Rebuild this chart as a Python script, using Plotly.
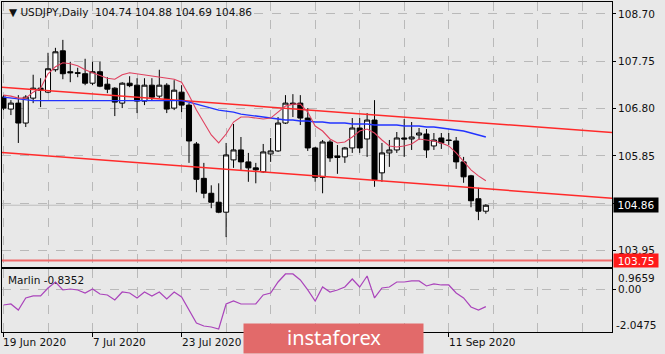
import pandas as pd
import plotly.graph_objects as go

# ---------------- data ----------------
dates = pd.bdate_range("2020-06-19", "2020-09-18")
bar = list(range(len(dates)))

opens = [107.03, 106.79, 106.91, 106.51, 107.01, 107.21, 107.13, 107.58, 107.96, 107.54,
         107.52, 107.50, 107.31, 107.54, 107.29, 107.21, 106.91, 107.31, 107.27, 106.95,
         107.27, 107.05, 107.27, 106.81, 107.13, 106.87, 106.09, 105.40, 105.10, 104.92,
         104.72, 105.77, 105.97, 105.73, 105.61, 105.53, 105.89, 105.95, 106.51, 106.91,
         106.91, 106.61, 106.01, 105.42, 106.13, 105.85, 105.83, 106.01, 106.41, 106.19,
         106.57, 105.51, 105.91, 105.97, 106.21, 106.19, 106.27, 106.29, 106.05, 106.21,
         106.17, 106.15, 105.73, 105.45, 104.99, 104.74]
highs = [107.07, 106.97, 107.07, 107.07, 107.48, 107.41, 107.92, 108.02, 108.18, 107.74,
         107.62, 107.80, 107.74, 107.74, 107.43, 107.23, 107.33, 107.45, 107.41, 107.41,
         107.41, 107.58, 107.31, 107.37, 107.27, 106.91, 106.13, 105.71, 105.26, 105.30,
         106.11, 106.49, 106.23, 105.91, 105.71, 106.09, 106.21, 106.63, 107.07, 107.09,
         107.07, 106.81, 106.03, 106.17, 106.17, 106.07, 106.03, 106.61, 106.61, 106.71,
         106.97, 106.11, 106.17, 106.33, 106.59, 106.53, 106.41, 106.39, 106.31, 106.31,
         106.31, 106.23, 105.83, 105.47, 105.21, 104.88]
lows = [106.77, 106.67, 106.11, 106.43, 106.91, 106.83, 107.11, 107.54, 107.39, 107.33,
        107.43, 107.27, 107.27, 107.23, 107.11, 106.65, 106.81, 107.23, 106.71, 106.87,
        106.97, 107.01, 106.71, 106.77, 106.73, 105.71, 105.12, 105.00, 104.80, 104.70,
        104.22, 105.61, 105.57, 105.33, 105.30, 105.51, 105.73, 105.93, 106.49, 106.63,
        106.47, 105.95, 105.33, 105.10, 105.73, 105.49, 105.71, 105.91, 105.91, 105.83,
        105.23, 105.33, 105.63, 105.91, 105.83, 105.97, 106.17, 105.81, 105.97, 105.99,
        106.07, 105.59, 105.31, 104.82, 104.56, 104.69]
closes = [106.81, 106.91, 106.51, 107.03, 107.21, 107.17, 107.60, 107.94, 107.50, 107.52,
          107.51, 107.31, 107.54, 107.25, 107.19, 106.93, 107.31, 107.26, 106.95, 107.27,
          107.03, 107.27, 106.79, 107.17, 106.87, 106.15, 105.38, 105.10, 104.92, 104.72,
          105.87, 105.97, 105.73, 105.61, 105.57, 105.93, 105.95, 106.51, 106.91, 106.89,
          106.61, 106.01, 105.42, 106.13, 105.81, 105.82, 106.01, 106.41, 106.01, 106.57,
          105.37, 105.91, 105.97, 106.21, 106.19, 106.23, 106.31, 105.97, 106.17, 106.11,
          106.16, 105.73, 105.43, 104.95, 104.74, 104.86]

ma_fast = [107.07, 107.05, 107.01, 107.01, 107.13, 107.21, 107.50, 107.64, 107.72, 107.70,
           107.66, 107.58, 107.52, 107.46, 107.41, 107.39, 107.48, 107.52, 107.50, 107.48,
           107.46, 107.43, 107.41, 107.39, 107.33, 107.07, 106.77, 106.53, 106.27, 106.11,
           106.29, 106.53, 106.63, 106.63, 106.61, 106.59, 106.61, 106.73, 106.85, 106.89,
           106.89, 106.73, 106.45, 106.35, 106.19, 106.11, 106.13, 106.23, 106.35, 106.39,
           106.31, 106.17, 106.05, 106.03, 106.05, 106.09, 106.19, 106.17, 106.15, 106.11,
           106.05, 105.91, 105.73, 105.57, 105.45, 105.35]
ma_slow = [107.03, 107.01, 106.99, 106.97, 106.96, 106.96, 106.96, 106.96, 106.96, 106.96,
           106.96, 106.96, 106.96, 106.96, 106.96, 106.96, 106.96, 106.96, 106.96, 106.96,
           106.96, 106.96, 106.96, 106.96, 106.96, 106.93, 106.89, 106.85, 106.81, 106.77,
           106.75, 106.73, 106.69, 106.67, 106.65, 106.63, 106.61, 106.59, 106.57, 106.57,
           106.55, 106.55, 106.53, 106.53, 106.51, 106.51, 106.51, 106.49, 106.49, 106.49,
           106.47, 106.47, 106.47, 106.47, 106.45, 106.45, 106.45, 106.43, 106.43, 106.41,
           106.39, 106.37, 106.35, 106.31, 106.27, 106.23]
marlin = [-0.756, -0.708, -0.995, -0.421, -0.325, -0.325, 0.057, 0.344, -0.038, 0.009,
          -0.038, -0.182, 0.009, -0.230, -0.278, -0.517, -0.134, -0.182, -0.421, -0.134,
          -0.325, -0.134, -0.469, -0.134, -0.373, -0.995, -1.617, -1.760, -1.808, -1.904,
          -0.708, -0.565, -0.708, -0.708, -0.708, -0.278, -0.182, 0.344, 0.727, 0.727,
          0.440, -0.038, -0.565, 0.105, -0.134, -0.038, 0.105, 0.488, 0.105, 0.631,
          -0.421, 0.057, 0.105, 0.344, 0.344, 0.392, 0.392, 0.153, 0.249, 0.201,
          0.201, -0.182, -0.421, -0.851, -0.995, -0.8352]

channel_x = [-0.2, 82.0]
channel_upper = [107.23, 106.32]
channel_lower = [105.92, 105.00]
support_level = 103.75

price_ticks = [108.70, 107.75, 106.80, 105.85, 104.90, 103.95]
hidden_price_ticks = [104.90]          # covered by the last-price box
price_range = [103.62, 108.94]
marlin_range = [-2.0475, 0.9659]
x_range = [-0.2, 82.0]

label_idx = list(range(0, len(dates), 12))
date_labels = [dates[i].strftime("%-d %b %Y") for i in label_idx]
covered_labels = [36, 48]              # hidden behind the watermark
grid_idx = list(range(0, 83, 6))
minor_idx = [i for i in grid_idx if i not in label_idx]

# ---------------- style ----------------
BG = "#e8e8e8"
GRID = "#b9b9b9"
FONT = "DejaVu Sans"
FS = 10.5
TXT = "#111111"

fig = go.Figure()

fig.add_trace(go.Candlestick(
    x=bar, open=opens, high=highs, low=lows, close=closes,
    increasing=dict(fillcolor="white", line=dict(color="black", width=1)),
    decreasing=dict(fillcolor="black", line=dict(color="black", width=1)),
    whiskerwidth=0, xaxis="x", yaxis="y", hoverinfo="skip"))

fig.add_trace(go.Scatter(x=channel_x, y=channel_upper, mode="lines",
                         line=dict(color="#ff2a2a", width=1.5), xaxis="x", yaxis="y"))
fig.add_trace(go.Scatter(x=channel_x, y=channel_lower, mode="lines",
                         line=dict(color="#ff2a2a", width=1.5), xaxis="x", yaxis="y"))
fig.add_trace(go.Scatter(x=bar, y=ma_slow, mode="lines",
                         line=dict(color="#2233ff", width=1.4), xaxis="x", yaxis="y"))
fig.add_trace(go.Scatter(x=bar, y=ma_fast, mode="lines",
                         line=dict(color="#e0405e", width=1.1), xaxis="x", yaxis="y"))
fig.add_trace(go.Scatter(x=bar, y=marlin, mode="lines",
                         line=dict(color="#aa44bb", width=1.2), xaxis="x2", yaxis="y2"))

axis_common = dict(showline=True, mirror=True, linecolor="black", linewidth=1,
                   zeroline=False, tickfont=dict(family=FONT, size=FS, color=TXT))

fig.update_layout(
    width=665, height=354,
    margin=dict(l=2, r=53, t=2, b=22, pad=0),
    paper_bgcolor=BG, plot_bgcolor=BG,
    showlegend=False,
    boxgap=0.2, boxgroupgap=0.15,
    xaxis=dict(domain=[0, 1], anchor="y", range=x_range, tickvals=grid_idx,
               showticklabels=False, ticks="", showgrid=True, gridcolor=GRID,
               griddash="dash", gridwidth=1, rangeslider=dict(visible=False),
               **axis_common),
    xaxis2=dict(domain=[0, 1], anchor="y2", matches="x", range=x_range,
                tickvals=label_idx, ticktext=["" for _ in label_idx],
                ticks="outside", ticklen=4, tickcolor="black",
                showgrid=True, gridcolor=GRID, griddash="dash",
                minor=dict(tickvals=minor_idx, showgrid=True, gridcolor=GRID,
                           griddash="dash", ticks=""),
                rangeslider=dict(visible=False), **axis_common),
    yaxis=dict(domain=[0.197, 1], anchor="x", side="right", range=price_range,
               tickvals=price_ticks,
               ticktext=["" if v in hidden_price_ticks else f"{v:.2f}" for v in price_ticks],
               ticks="outside", ticklen=3, tickcolor="black",
               showgrid=True, gridcolor=GRID, griddash="dash", **axis_common),
    yaxis2=dict(domain=[0, 0.191], anchor="x2", side="right", range=marlin_range,
                tickvals=[0.0], ticktext=["0.00"], ticks="outside", ticklen=3,
                tickcolor="black", showgrid=True, gridcolor=GRID, griddash="dash",
                **axis_common),
)

# level lines
fig.add_shape(type="line", xref="x domain", x0=0, x1=1, yref="y",
              y0=closes[-1], y1=closes[-1], line=dict(color="#bdbdbd", width=1),
              layer="below")
fig.add_shape(type="line", xref="x domain", x0=0, x1=1, yref="y",
              y0=support_level, y1=support_level, line=dict(color="#f06a6a", width=2.2))

ann = []
ann.append(dict(xref="paper", yref="paper", x=5 / 610, y=1, xanchor="left", yanchor="top",
                yshift=-2, showarrow=False,
                text=f"▼ USDJPY,Daily  {opens[-1]:.2f} {highs[-1]:.2f} {lows[-1]:.2f} {closes[-1]:.2f}",
                font=dict(family=FONT, size=FS, color=TXT)))
ann.append(dict(xref="paper", yref="paper", x=4 / 610, y=0.191, xanchor="left", yanchor="top",
                yshift=-3, showarrow=False, text=f"Marlin {marlin[-1]:.4f}",
                font=dict(family=FONT, size=FS, color=TXT)))
# price labels
ann.append(dict(xref="paper", yref="y", x=1, y=closes[-1], xanchor="left", yanchor="middle",
                xshift=1, showarrow=False, text=f"{closes[-1]:.2f}", bgcolor="black",
                width=42, height=12, borderpad=1,
                font=dict(family=FONT, size=FS, color="white")))
ann.append(dict(xref="paper", yref="y", x=1, y=support_level, xanchor="left", yanchor="middle",
                xshift=1, showarrow=False, text=f"{support_level:.2f}", bgcolor="#ff1a1a",
                width=42, height=11, borderpad=1,
                font=dict(family=FONT, size=FS, color="white")))
ann.append(dict(xref="paper", yref="y2", x=1, y=marlin_range[1], xanchor="left",
                yanchor="middle", xshift=4, yshift=-9, showarrow=False,
                text=f"{marlin_range[1]:.4f}", font=dict(family=FONT, size=FS, color=TXT)))
ann.append(dict(xref="paper", yref="y2", x=1, y=marlin_range[0], xanchor="left",
                yanchor="middle", xshift=2, yshift=7, showarrow=False,
                text=f"{marlin_range[0]:.4f}", font=dict(family=FONT, size=FS, color=TXT)))
# date labels
for i, lab in zip(label_idx, date_labels):
    if i in covered_labels:
        continue
    ann.append(dict(xref="x2", yref="paper", x=i, y=0, xanchor="left", yanchor="top",
                    xshift=-2, yshift=-2, showarrow=False, text=lab,
                    font=dict(family=FONT, size=FS, color=TXT)))
# watermark
ann.append(dict(xref="paper", yref="paper", x=241 / 610, y=9 / 330, xanchor="left",
                yanchor="top", showarrow=False, text=" ", bgcolor="#e26a6a",
                width=177, height=27, borderpad=1))
ann.append(dict(xref="paper", yref="paper", x=332 / 610, y=-6 / 330, xanchor="center",
                yanchor="middle", showarrow=False, text="instaforex",
                font=dict(family="Noto Sans", size=20, color="white")))
fig.update_layout(annotations=ann)

fig.write_html("out.html", config={"displayModeBar": False})
